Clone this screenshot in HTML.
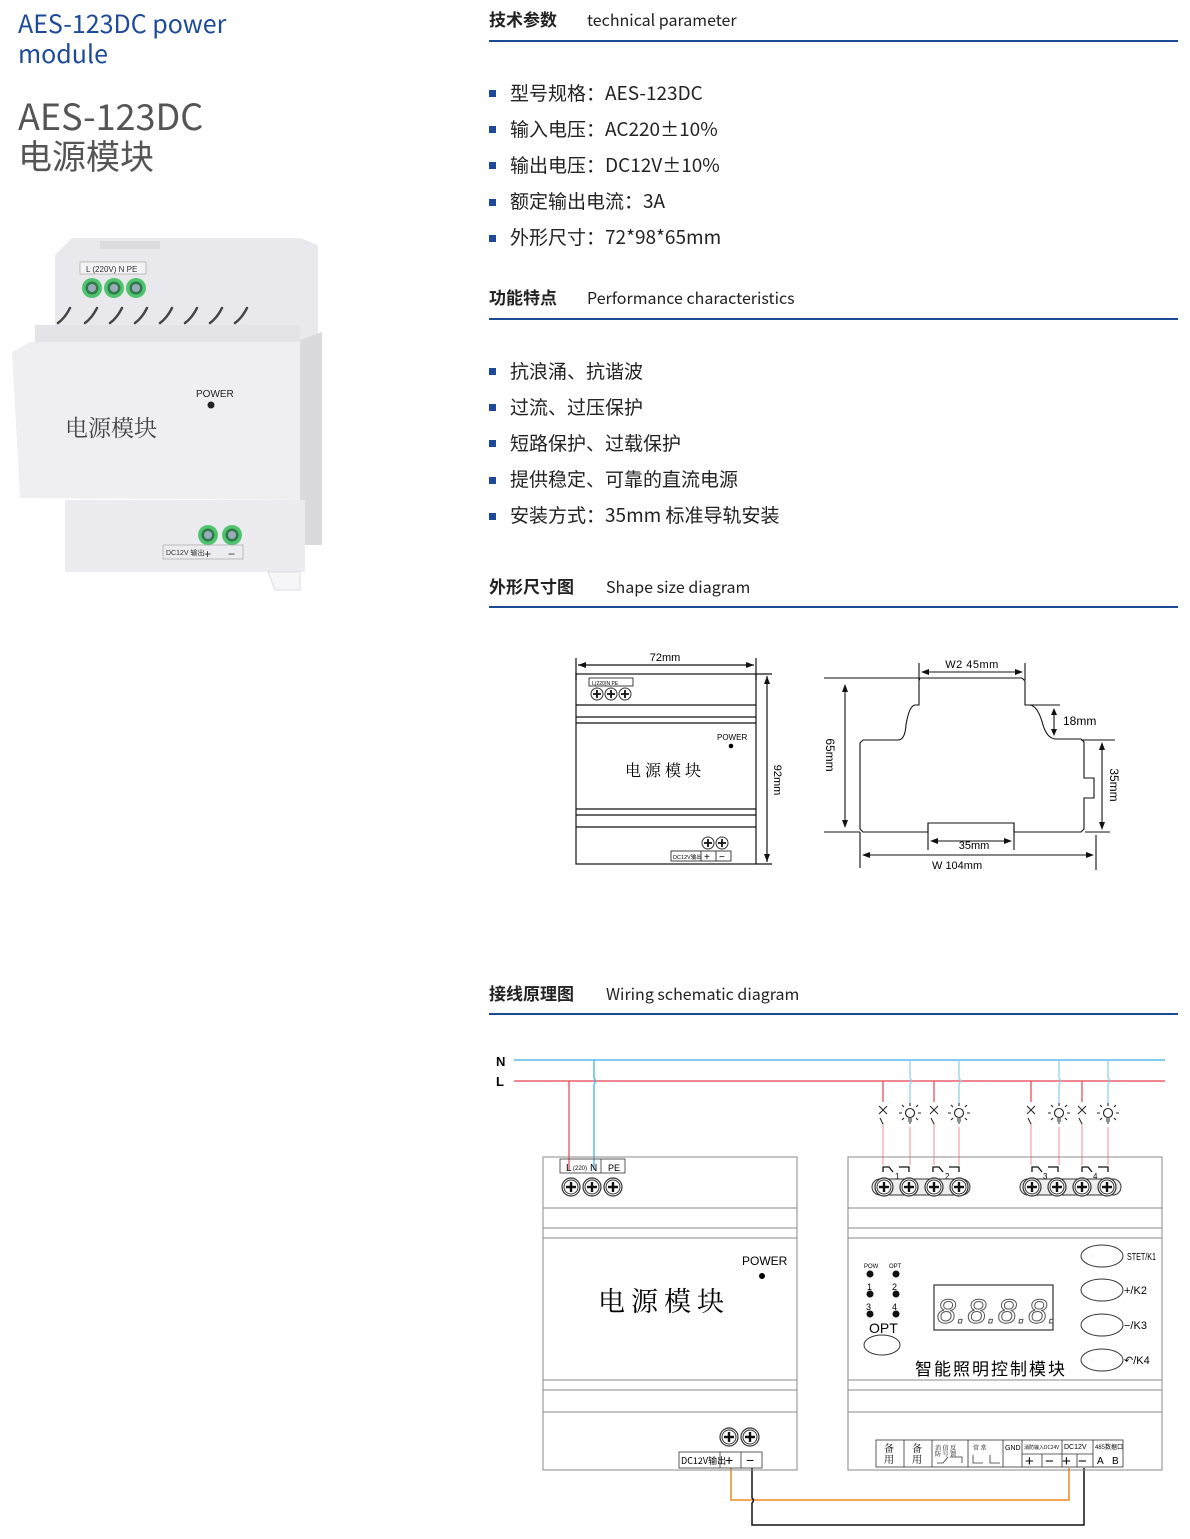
<!DOCTYPE html>
<html><head><meta charset="utf-8"><style>
html,body{margin:0;padding:0;background:#fff;}
svg{display:block;}
text{font-family:"Liberation Sans","Noto Sans CJK SC",sans-serif;}
.cj{font-family:"Noto Sans CJK SC","Liberation Sans",sans-serif;}
.sf{font-family:"Noto Serif CJK SC",serif;}
.h{font-size:17px;fill:#222;font-weight:bold;}
.he{font-size:16px;fill:#222;font-family:"Noto Sans CJK SC","Liberation Sans",sans-serif;}
.b{font-size:19px;fill:#222;}
</style></head><body>
<svg width="1190" height="1539" viewBox="0 0 1190 1539" xmlns="http://www.w3.org/2000/svg">
<defs>
<g id="scr"><circle r="9" fill="#fff" stroke="#333" stroke-width="1.2"/><circle r="7" fill="#fff" stroke="#333" stroke-width="1"/><path d="M-5 0H5M0 -5V5" stroke="#111" stroke-width="2.4"/></g>
<g id="scs"><circle r="6" fill="#fff" stroke="#333" stroke-width="1"/><path d="M-4 0H4M0 -4V4" stroke="#111" stroke-width="1.8"/></g>
<g id="gs"><circle r="10" fill="#4fc46e"/><circle r="6.5" fill="#2f7a48"/><circle r="4" fill="#9ab"/></g>
<g id="lamp" stroke="#222" stroke-width="1.1" fill="none"><circle r="4.5" fill="#fff"/><path d="M-2 6h4M-2 8h4M-1 10h2"/><path d="M-8 0h-3M8 0h3M0 -7v-3M-6 -6l-2 -2M6 -6l2 -2M-6 5l-2 2M6 5l2 2"/></g>
<g id="sw" stroke="#222" stroke-width="1" fill="none"><path d="M-4 -4l8 8M4 -4l-8 8M-3 8l3 6"/></g>
<g id="rel" stroke="#111" stroke-width="1.3" fill="none"><path d="M-13 4v-5h6l4 5M3 -1h10v5"/></g>
</defs>

<!-- left titles -->
<text x="18" y="33" font-size="25" class="cj" fill="#1d4a98">AES-123DC power</text>
<text x="18" y="63" font-size="25" class="cj" fill="#1d4a98">module</text>
<text x="18" y="130" font-size="36" fill="#555" class="cj">AES-123DC</text>
<text x="18" y="169" font-size="34" fill="#555" class="cj">电源模块</text>

<!-- product photo -->
<g>
<path d="M55 255 L72 238 L300 238 L318 245 L318 340 L55 340 Z" fill="#e9e9ed"/>
<rect x="100" y="241" width="60" height="8" fill="#dcdce0"/>
<rect x="80" y="262" width="66" height="12" fill="#f4f4f6" stroke="#999" stroke-width=".6"/>
<text x="86" y="272" font-size="8" fill="#333">L (220V) N   PE</text>
<use href="#gs" x="92" y="288"/><use href="#gs" x="114" y="288"/><use href="#gs" x="136" y="288"/>
<g stroke="#444" stroke-width="2.5" fill="none" stroke-linecap="round">
<path d="M70 308q-5 10-12 15M97 308q-5 10-12 15M122 308q-5 10-12 15M147 308q-5 10-12 15M172 308q-5 10-12 15M197 308q-5 10-12 15M222 308q-5 10-12 15M247 308q-5 10-12 15"/></g>
<rect x="35" y="325" width="265" height="20" fill="#e4e4e8"/>
<path d="M12 352 L30 342 L300 342 L300 500 L20 498 Z" fill="#efeff2"/>
<path d="M300 340 L322 332 L322 545 L300 545 Z" fill="#dadade"/>
<text x="196" y="397" font-size="10" fill="#222">POWER</text>
<circle cx="211" cy="405" r="3.5" fill="#222"/>
<text x="65" y="436" font-size="23" fill="#444" class="sf">电源模块</text>
<rect x="65" y="500" width="240" height="72" fill="#ececf0"/>
<use href="#gs" x="208" y="535"/><use href="#gs" x="232" y="535"/>
<rect x="163" y="545" width="80" height="14" fill="none" stroke="#999" stroke-width=".6"/>
<text x="166" y="555" font-size="7" fill="#333">DC12V 输出</text>
<text x="204" y="558" font-size="12" fill="#333">+</text><text x="228" y="558" font-size="12" fill="#333">−</text>
<path d="M268 572 h32 v18 h-25 z" fill="#f6f6f8" stroke="#ddd"/>
</g>

<!-- section headers -->
<g>
<text x="489" y="26" class="h cj">技术参数</text><text x="587" y="26" class="he">technical parameter</text>
<rect x="489" y="40" width="689" height="2" fill="#1d4a98"/>
<text x="489" y="304" class="h cj">功能特点</text><text x="587" y="304" class="he">Performance  characteristics</text>
<rect x="489" y="318" width="689" height="2" fill="#1d4a98"/>
<text x="489" y="593" class="h cj">外形尺寸图</text><text x="606" y="593" class="he">Shape size diagram</text>
<rect x="489" y="606" width="689" height="2" fill="#1d4a98"/>
<text x="489" y="1000" class="h cj">接线原理图</text><text x="606" y="1000" class="he">Wiring schematic diagram</text>
<rect x="489" y="1013" width="689" height="2" fill="#1d4a98"/>
</g>

<!-- bullets -->
<g>
<rect x="489" y="90" width="7" height="7" fill="#1d4a98"/><text x="510" y="100" class="b cj">型号规格：AES-123DC</text>
<rect x="489" y="126" width="7" height="7" fill="#1d4a98"/><text x="510" y="136" class="b cj">输入电压：AC220±10%</text>
<rect x="489" y="162" width="7" height="7" fill="#1d4a98"/><text x="510" y="172" class="b cj">输出电压：DC12V±10%</text>
<rect x="489" y="199" width="7" height="7" fill="#1d4a98"/><text x="510" y="208" class="b cj">额定输出电流：3A</text>
<rect x="489" y="235" width="7" height="7" fill="#1d4a98"/><text x="510" y="244" class="b cj">外形尺寸：72*98*65mm</text>
<rect x="489" y="368" width="7" height="7" fill="#1d4a98"/><text x="510" y="378" class="b cj">抗浪涌、抗谐波</text>
<rect x="489" y="404" width="7" height="7" fill="#1d4a98"/><text x="510" y="414" class="b cj">过流、过压保护</text>
<rect x="489" y="440" width="7" height="7" fill="#1d4a98"/><text x="510" y="450" class="b cj">短路保护、过载保护</text>
<rect x="489" y="477" width="7" height="7" fill="#1d4a98"/><text x="510" y="486" class="b cj">提供稳定、可靠的直流电源</text>
<rect x="489" y="513" width="7" height="7" fill="#1d4a98"/><text x="510" y="522" class="b cj">安装方式：35mm 标准导轨安装</text>
</g>

<!-- dimension drawing left -->
<g stroke="#111" stroke-width="1.2" fill="none">
<rect x="576" y="674" width="180" height="190"/>
<path d="M576 705H756M576 717H756M576 723H756M576 809H756M576 815H756M576 827H756"/>
<path d="M576 658V680M756 658V680M578 665H754"/>
<path d="M756 674H772M756 864H772M767 676V862"/>
<rect x="589" y="678" width="44" height="8" stroke-width=".8"/>
<rect x="671" y="851" width="60" height="10" stroke-width=".8"/>
<path d="M701 851v10M716 851v10" stroke-width=".8"/>
</g>
<g fill="#111">
<path d="M578 665l8 -3v6z M754 665l-8 -3v6z M767 676l-3 8h6z M767 862l-3 -8h6z"/>
</g>
<text x="665" y="661" font-size="11" text-anchor="middle">72mm</text>
<text transform="translate(774,780) rotate(90)" font-size="11" text-anchor="middle">92mm</text>
<text x="592" y="685" font-size="5">L(220)N  PE</text>
<use href="#scs" x="597" y="694"/><use href="#scs" x="611" y="694"/><use href="#scs" x="625" y="694"/>
<text x="717" y="740" font-size="8">POWER</text><circle cx="731" cy="746" r="2.3"/>
<text x="665" y="776" font-size="16" text-anchor="middle" class="sf" letter-spacing="4">电源模块</text>
<use href="#scs" x="708" y="843"/><use href="#scs" x="722" y="843"/>
<text x="673" y="859" font-size="5.5">DC12V输出</text>
<text x="704" y="860" font-size="10">+</text><text x="719" y="860" font-size="10">−</text>

<!-- profile right -->
<g stroke="#111" stroke-width="1.1" fill="none">
<path d="M920 678H1022L1025 681V705H1030Q1038 706 1043 725Q1047 738 1055 739H1081L1084 742V778H1094V798H1084V829L1081 832H1014V823H928V832H863L860 829V743L863 740H898Q905 740 906 725Q909 706 915 705H919V681Z"/>
<path d="M824 678H920M824 832H860M845 685V826"/>
<path d="M1030 705H1060M1054 710V734"/>
<path d="M1081 740H1115M1085 832H1110M1102 746V826"/>
<path d="M919 663V680M1025 663V680M925 672H1019"/>
<path d="M928 823V850M1014 823V850M934 841H1008"/>
<path d="M860 832V868M1096 835V870M866 855H1090"/>
</g>
<g fill="#111">
<path d="M845 684l-3 8h6zM845 828l-3 -8h6z M1054 708l-3 7h6zM1054 736l-3 -7h6z M1102 742l-3 8h6zM1102 830l-3 -8h6z M921 672l8 -3v6zM1023 672l-8 -3v6z M930 841l8 -3v6zM1012 841l-8 -3v6z M862 855l8 -3v6zM1094 855l-8 -3v6z"/>
</g>
<text x="972" y="668" font-size="11" text-anchor="middle" letter-spacing=".5">W2  45mm</text>
<text x="1063" y="725" font-size="12">18mm</text>
<text x="974" y="849" font-size="11" text-anchor="middle">35mm</text>
<text x="932" y="869" font-size="11">W    104mm</text>
<text transform="translate(826,755) rotate(90)" font-size="12" text-anchor="middle">65mm</text>
<text transform="translate(1110,785) rotate(90)" font-size="12" text-anchor="middle">35mm</text>

<!-- wiring -->
<text x="496" y="1066" font-size="13" font-weight="bold">N</text>
<text x="496" y="1086" font-size="13" font-weight="bold">L</text>
<g fill="none" stroke-width="1.2">
<path d="M514 1060H1165" stroke="#35aeea"/>
<path d="M514 1081H1165" stroke="#e8404f"/>
<path d="M569 1081V1170" stroke="#e8404f"/>
<path d="M594 1060V1078q3 3 0 6V1170" stroke="#35aeea"/>
<g stroke="#e8404f"><path d="M883 1081V1102M934 1081V1102M1031 1081V1102M1082 1081V1102"/></g>
<g stroke="#f2a0a8"><path d="M883 1123V1165M934 1123V1165M1031 1123V1165M1082 1123V1165M910 1127V1165M959 1127V1165M1059 1127V1165M1108 1127V1165"/></g>
<g stroke="#8ccbf0"><path d="M910 1060V1078q3 3 0 6V1103M959 1060V1078q3 3 0 6V1103M1059 1060V1078q3 3 0 6V1103M1108 1060V1078q3 3 0 6V1103"/></g>
<path d="M731 1468V1500H1069V1468" stroke="#f08a1e" stroke-width="1.5"/>
<path d="M752 1468V1498q3 2 0 5V1525H1084V1468" stroke="#111" stroke-width="1.5"/>
</g>
<use href="#sw" x="883" y="1110"/><use href="#sw" x="934" y="1110"/><use href="#sw" x="1031" y="1110"/><use href="#sw" x="1082" y="1110"/>
<use href="#lamp" x="910" y="1113"/><use href="#lamp" x="959" y="1113"/><use href="#lamp" x="1059" y="1113"/><use href="#lamp" x="1108" y="1113"/>

<!-- power module box -->
<g stroke="#888" stroke-width="1" fill="none">
<rect x="543" y="1157" width="254" height="313"/>
<path d="M543 1208H797M543 1228H797M543 1238H797M543 1380H797M543 1390H797M543 1412H797"/>
</g>
<g stroke="#333" stroke-width=".8" fill="none"><rect x="560" y="1159" width="65" height="14"/><path d="M601 1159v14"/>
<rect x="679" y="1452" width="83" height="16"/><path d="M720 1452v16M741 1452v16"/></g>
<text x="566" y="1171" font-size="10">L</text><text x="573" y="1170" font-size="6">(220)</text><text x="590" y="1171" font-size="10">N</text><text x="608" y="1171" font-size="9">PE</text>
<use href="#scr" x="571" y="1187"/><use href="#scr" x="592" y="1187"/><use href="#scr" x="613" y="1187"/>
<text x="742" y="1265" font-size="12">POWER</text><circle cx="762" cy="1276" r="3"/>
<text x="664" y="1311" font-size="27" text-anchor="middle" class="sf" letter-spacing="6">电源模块</text>
<use href="#scr" x="729" y="1437"/><use href="#scr" x="750" y="1437"/>
<text x="681" y="1464" font-size="9" class="cj">DC12V输出</text>
<text x="725" y="1465" font-size="14">+</text><text x="746" y="1465" font-size="14">−</text>

<!-- control module -->
<g stroke="#888" stroke-width="1" fill="none">
<rect x="848" y="1157" width="314" height="313"/>
<path d="M848 1208H1162M848 1228H1162M848 1238H1162M848 1380H1162M848 1390H1162M848 1412H1162"/>
</g>
<use href="#rel" x="896" y="1168"/><use href="#rel" x="946" y="1168"/><use href="#rel" x="1045" y="1168"/><use href="#rel" x="1095" y="1168"/>
<text x="895" y="1179" font-size="8">1</text><text x="945" y="1179" font-size="8">2</text><text x="1043" y="1179" font-size="8">3</text><text x="1093" y="1179" font-size="8">4</text>
<g stroke="#333" stroke-width="1" fill="#eee"><rect x="872" y="1179" width="98" height="16" rx="8"/><rect x="1020" y="1179" width="101" height="16" rx="8"/></g>
<use href="#scr" x="884" y="1187"/><use href="#scr" x="909" y="1187"/><use href="#scr" x="934" y="1187"/><use href="#scr" x="959" y="1187"/>
<use href="#scr" x="1032" y="1187"/><use href="#scr" x="1057" y="1187"/><use href="#scr" x="1082" y="1187"/><use href="#scr" x="1107" y="1187"/>
<text x="864" y="1268" font-size="6">POW</text><text x="889" y="1268" font-size="6">OPT</text>
<g fill="#111"><circle cx="870" cy="1274" r="3.5"/><circle cx="896" cy="1274" r="3.5"/><circle cx="870" cy="1294" r="3.5"/><circle cx="896" cy="1294" r="3.5"/><circle cx="870" cy="1314" r="3.5"/><circle cx="896" cy="1314" r="3.5"/></g>
<text x="867" y="1290" font-size="9">1</text><text x="892" y="1290" font-size="9">2</text><text x="866" y="1310" font-size="9">3</text><text x="892" y="1310" font-size="9">4</text>
<text x="869" y="1333" font-size="14">OPT</text>
<ellipse cx="882" cy="1345" rx="18" ry="10" fill="none" stroke="#333"/>
<rect x="934" y="1285" width="119" height="45" fill="none" stroke="#333" stroke-width="1.2"/>
<g font-size="34" fill="none" stroke="#555" stroke-width="1" font-style="italic"><text x="937" y="1323" letter-spacing="1">8.8.8.8.</text></g>
<text x="991" y="1375" font-size="17" text-anchor="middle" class="cj" letter-spacing="2">智能照明控制模块</text>
<g fill="none" stroke="#333"><ellipse cx="1102" cy="1256" rx="21" ry="11"/><ellipse cx="1102" cy="1290" rx="21" ry="11"/><ellipse cx="1102" cy="1325" rx="21" ry="11"/><ellipse cx="1102" cy="1360" rx="21" ry="11"/></g>
<text x="1127" y="1260" font-size="10" textLength="29" lengthAdjust="spacingAndGlyphs">STET/K1</text>
<text x="1124" y="1294" font-size="11">+/K2</text>
<text x="1124" y="1329" font-size="11">−/K3</text>
<text x="1124" y="1364" font-size="11">↶/K4</text>
<g stroke="#333" stroke-width=".8" fill="none">
<rect x="876" y="1440" width="247" height="27"/>
<path d="M904 1440v27M932 1440v27M968 1440v27M1003 1440v27M1022 1440v27M1062 1440v27M1093 1440v27M1022 1454H1093M1042 1454v13M1077 1454v13"/>
<path d="M937 1463h6l5 -6M950 1457h12v6M973 1455v8h10M990 1455v8h10"/>
</g>
<text x="884" y="1452" font-size="10" class="sf">备</text><text x="884" y="1463" font-size="10" class="sf">用</text>
<text x="912" y="1452" font-size="10" class="sf">备</text><text x="912" y="1463" font-size="10" class="sf">用</text>
<text x="935" y="1450" font-size="6" class="sf">消 信 反</text><text x="935" y="1456" font-size="6" class="sf">防 号 馈</text>
<text x="973" y="1450" font-size="6" class="sf">常   常</text>
<text x="1005" y="1450" font-size="7">GND</text>
<text x="1024" y="1449" font-size="5" class="cj">消防输入DC24V</text>
<text x="1064" y="1449" font-size="7">DC12V</text>
<text x="1095" y="1449" font-size="6" class="cj">485数据口</text>
<text x="1025" y="1466" font-size="15">+</text><text x="1045" y="1466" font-size="15">−</text>
<text x="1062" y="1466" font-size="15">+</text><text x="1078" y="1466" font-size="15">−</text>
<text x="1097" y="1464" font-size="10">A</text><text x="1112" y="1464" font-size="10">B</text>
</svg>
</body></html>
